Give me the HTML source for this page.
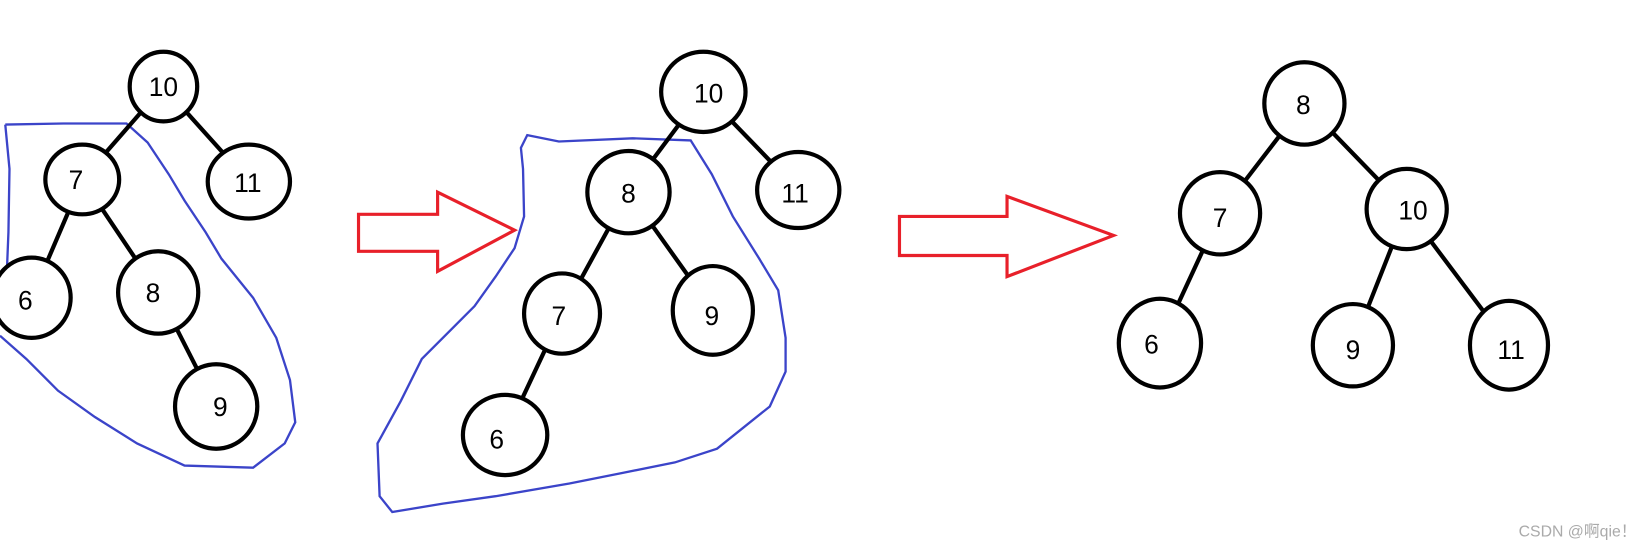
<!DOCTYPE html>
<html><head><style>html,body{margin:0;padding:0;background:#fff;overflow:hidden}svg{display:block}</style></head>
<body>
<svg width="1645" height="549" viewBox="0 0 1560 520" preserveAspectRatio="none" xmlns="http://www.w3.org/2000/svg">
<g fill="none" stroke="#3b44c9" stroke-width="2.2">
<path d="M5,118 L60,117 L120,117 L140,135 L160,165 L175,190 L195,220 L210,245 L240,282 L262,320 L275,360 L280,400 L270,420 L240,443 L175,441 L130,420 L90,395 L55,370 L25,340 L0,318 M5,118 L9,160 L8,220 L6,270 L0,300"/>
<path d="M500,128 L530,134 L600,131 L655,133 L675,165 L695,205 L720,245 L738,275 L745,320 L745,352 L730,385 L705,405 L680,425 L640,438 L590,448 L540,458 L470,470 L420,477 L372,485 L360,470 L358,420 L380,380 L400,340 L425,315 L450,290 L470,262 L488,235 L497,205 L496,160 L494,140 Z"/>
</g>
<g fill="none" stroke="#e8202a" stroke-width="3" stroke-linejoin="miter">
<path d="M340,203 L415,203 L415,182 L488,218 L415,257 L415,238 L340,238 Z"/>
<path d="M853,205 L955,205 L955,186 L1056,223 L955,262 L955,242 L853,242 Z"/>
</g>
<g stroke="#000" stroke-width="4" fill="none">
<line x1="155" y1="82" x2="78" y2="170"/><line x1="155" y1="82" x2="236" y2="172"/>
<line x1="78" y1="170" x2="30" y2="282"/><line x1="78" y1="170" x2="150" y2="277"/>
<line x1="150" y1="277" x2="205" y2="385"/>
<line x1="667" y1="87" x2="596" y2="182"/><line x1="667" y1="87" x2="757" y2="180"/>
<line x1="596" y1="182" x2="533" y2="297"/><line x1="596" y1="182" x2="676" y2="294"/>
<line x1="533" y1="297" x2="479" y2="412"/>
<line x1="1237" y1="98" x2="1157" y2="202"/><line x1="1237" y1="98" x2="1334" y2="198"/>
<line x1="1157" y1="202" x2="1100" y2="325"/><line x1="1334" y1="198" x2="1283" y2="327"/>
<line x1="1334" y1="198" x2="1431" y2="327"/>
</g>
<g stroke="#000" stroke-width="4" fill="#fff">
<ellipse cx="155" cy="82" rx="32" ry="33"/><ellipse cx="236" cy="172" rx="39" ry="35"/>
<ellipse cx="78" cy="170" rx="35" ry="33"/><ellipse cx="30" cy="282" rx="37" ry="38"/>
<ellipse cx="150" cy="277" rx="38" ry="39"/><ellipse cx="205" cy="385" rx="39" ry="40"/>
<ellipse cx="667" cy="87" rx="40" ry="38"/><ellipse cx="757" cy="180" rx="39" ry="36"/>
<ellipse cx="596" cy="182" rx="39" ry="39"/><ellipse cx="533" cy="297" rx="36" ry="38"/>
<ellipse cx="676" cy="294" rx="38" ry="42"/><ellipse cx="479" cy="412" rx="40" ry="38"/>
<ellipse cx="1237" cy="98" rx="38" ry="39"/><ellipse cx="1157" cy="202" rx="38" ry="39"/>
<ellipse cx="1334" cy="198" rx="38" ry="38"/><ellipse cx="1100" cy="325" rx="39" ry="42"/>
<ellipse cx="1283" cy="327" rx="38" ry="39"/><ellipse cx="1431" cy="327" rx="37" ry="42"/>
</g>
<g font-family="Liberation Sans, sans-serif" font-size="25" fill="#000" text-anchor="middle">
<text x="155" y="91">10</text><text x="235" y="182">11</text><text x="72" y="179">7</text>
<text x="24" y="293">6</text><text x="145" y="286">8</text><text x="209" y="394">9</text>
<text x="672" y="97">10</text><text x="754" y="192">11</text><text x="596" y="192">8</text>
<text x="530" y="308">7</text><text x="675" y="308">9</text><text x="471" y="425">6</text>
<text x="1236" y="108">8</text><text x="1157" y="215">7</text><text x="1340" y="208">10</text>
<text x="1092" y="335">6</text><text x="1283" y="340">9</text><text x="1433" y="340">11</text>
</g>
<text x="1552" y="508" font-family="Liberation Sans, Noto Sans CJK SC, sans-serif" font-size="15" fill="#aaa" text-anchor="end">CSDN @啊qie！</text>
</svg>
</body></html>
